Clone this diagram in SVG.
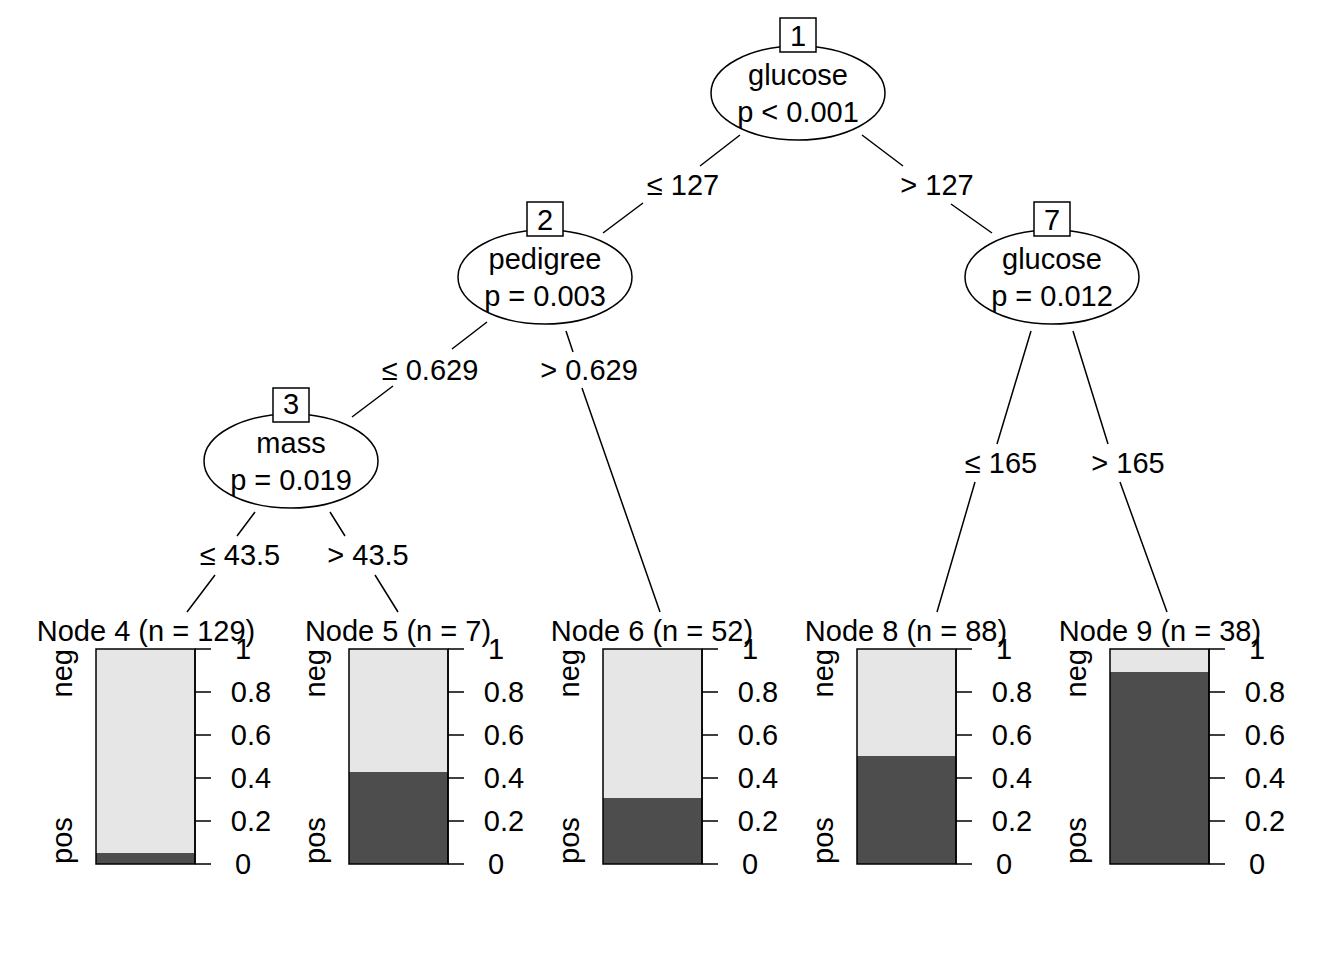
<svg xmlns="http://www.w3.org/2000/svg" width="1344" height="960" viewBox="0 0 1344 960">
<style>
text{font-family:"Liberation Sans",Arial,sans-serif;font-size:29px;fill:#000;text-anchor:middle}
.e{fill:#fff;stroke:#000;stroke-width:1.5}
.l{stroke:#000;stroke-width:1.5;fill:none}
.lt{fill:#E6E6E6;stroke:none}
.dk{fill:#4D4D4D;stroke:none}
.fr{fill:none;stroke:#000;stroke-width:1.5}
.ax{text-anchor:middle}
</style>
<rect width="1344" height="960" fill="#fff"/>
<g id="connectors" class="l">
<path d="M740,135L700,166M643,203L603,233"/>
<path d="M862,135L903,166M951,204L992,233"/>
<path d="M487,322L452,349M393,386L352,417"/>
<path d="M566,331L573,352M582,388L660,612"/>
<path d="M1031,331L997,444M975,482L937,612"/>
<path d="M1073,331L1108,444M1120,482L1167,612"/>
<path d="M255,512L237,536M215,575L187,612"/>
<path d="M330,512L345,536M375,575L398,612"/>
</g>
<g id="edge-labels">
<text x="683" y="195">≤ 127</text>
<text x="937" y="195">&gt; 127</text>
<text x="430" y="380">≤ 0.629</text>
<text x="589" y="380">&gt; 0.629</text>
<text x="1001" y="473">≤ 165</text>
<text x="1128" y="473">&gt; 165</text>
<text x="240" y="565">≤ 43.5</text>
<text x="368" y="565">&gt; 43.5</text>
</g>
<g id="node1">
<ellipse class="e" cx="798" cy="93" rx="87" ry="47"/>
<rect class="e" x="780" y="18" width="36" height="34"/>
<text x="798" y="46">1</text>
<text x="798" y="85">glucose</text>
<text x="798" y="122">p &lt; 0.001</text>
</g>
<g id="node2">
<ellipse class="e" cx="545" cy="277" rx="87" ry="47"/>
<rect class="e" x="527" y="202" width="36" height="34"/>
<text x="545" y="230">2</text>
<text x="545" y="269">pedigree</text>
<text x="545" y="306">p = 0.003</text>
</g>
<g id="node7">
<ellipse class="e" cx="1052" cy="277" rx="87" ry="47"/>
<rect class="e" x="1034" y="202" width="36" height="34"/>
<text x="1052" y="230">7</text>
<text x="1052" y="269">glucose</text>
<text x="1052" y="306">p = 0.012</text>
</g>
<g id="node3">
<ellipse class="e" cx="291" cy="461" rx="87" ry="47"/>
<rect class="e" x="273" y="388" width="36" height="34"/>
<text x="291" y="414">3</text>
<text x="291" y="453">mass</text>
<text x="291" y="490">p = 0.019</text>
</g>
<defs>
<g id="axis">
<path class="l" d="M0,649V864M0,649h16M0,692h16M0,735h16M0,778h16M0,821h16M0,864h16"/>
<text class="ax" x="48" y="659">1</text>
<text class="ax" x="56" y="702">0.8</text>
<text class="ax" x="56" y="745">0.6</text>
<text class="ax" x="56" y="788">0.4</text>
<text class="ax" x="56" y="831">0.2</text>
<text class="ax" x="48" y="874">0</text>
</g>
</defs>
<g id="node4">
<text x="146" y="641">Node 4 (n = 129)</text>
<rect class="lt" x="96" y="649" width="99" height="215"/>
<rect class="dk" x="96" y="853" width="99" height="11"/>
<rect class="fr" x="96" y="649" width="99" height="215"/>
<use href="#axis" x="195"/>
<text transform="translate(72,649) rotate(-90)" style="text-anchor:end">neg</text>
<text transform="translate(72,864) rotate(-90)" style="text-anchor:start">pos</text>
</g>
<g id="node5">
<text x="398" y="641">Node 5 (n = 7)</text>
<rect class="lt" x="349" y="649" width="99" height="215"/>
<rect class="dk" x="349" y="772" width="99" height="92"/>
<rect class="fr" x="349" y="649" width="99" height="215"/>
<use href="#axis" x="448"/>
<text transform="translate(325,649) rotate(-90)" style="text-anchor:end">neg</text>
<text transform="translate(325,864) rotate(-90)" style="text-anchor:start">pos</text>
</g>
<g id="node6">
<text x="652" y="641">Node 6 (n = 52)</text>
<rect class="lt" x="603" y="649" width="99" height="215"/>
<rect class="dk" x="603" y="798" width="99" height="66"/>
<rect class="fr" x="603" y="649" width="99" height="215"/>
<use href="#axis" x="702"/>
<text transform="translate(579,649) rotate(-90)" style="text-anchor:end">neg</text>
<text transform="translate(579,864) rotate(-90)" style="text-anchor:start">pos</text>
</g>
<g id="node8">
<text x="906" y="641">Node 8 (n = 88)</text>
<rect class="lt" x="857" y="649" width="99" height="215"/>
<rect class="dk" x="857" y="756" width="99" height="108"/>
<rect class="fr" x="857" y="649" width="99" height="215"/>
<use href="#axis" x="956"/>
<text transform="translate(833,649) rotate(-90)" style="text-anchor:end">neg</text>
<text transform="translate(833,864) rotate(-90)" style="text-anchor:start">pos</text>
</g>
<g id="node9">
<text x="1160" y="641">Node 9 (n = 38)</text>
<rect class="lt" x="1110" y="649" width="99" height="215"/>
<rect class="dk" x="1110" y="672" width="99" height="192"/>
<rect class="fr" x="1110" y="649" width="99" height="215"/>
<use href="#axis" x="1209"/>
<text transform="translate(1086,649) rotate(-90)" style="text-anchor:end">neg</text>
<text transform="translate(1086,864) rotate(-90)" style="text-anchor:start">pos</text>
</g>
</svg>
